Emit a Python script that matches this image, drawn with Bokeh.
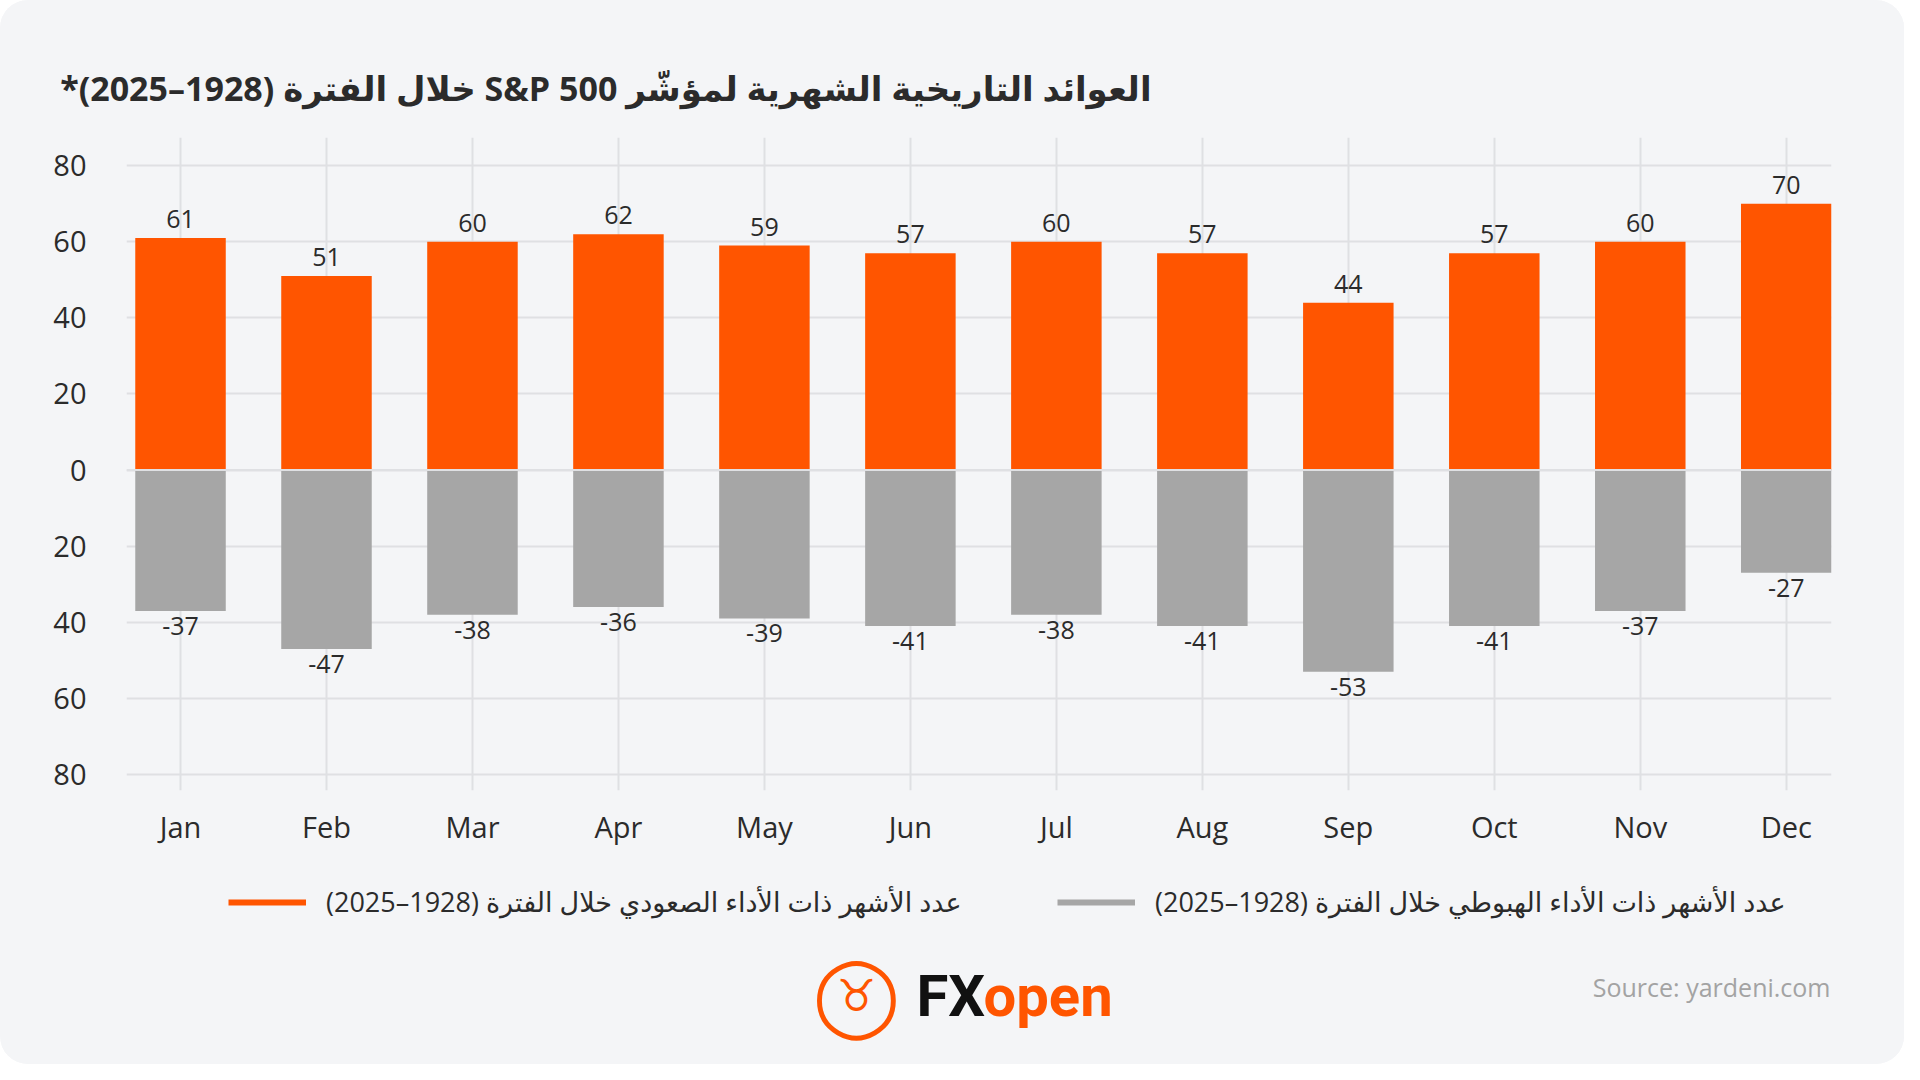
from bokeh.plotting import figure
from bokeh.layouts import column
from bokeh.models import (Range1d, FixedTicker, Legend, LegendItem, Label, Span, Title,
                          ColumnDataSource, CustomJSTickFormatter)
from bokeh.core.properties import value
from bokeh.embed import file_html
from bokeh.resources import INLINE

# ---------------- data ----------------
months = ["Jan", "Feb", "Mar", "Apr", "May", "Jun", "Jul", "Aug", "Sep", "Oct", "Nov", "Dec"]
up_counts = [61, 51, 60, 62, 59, 57, 60, 57, 44, 57, 60, 70]
down_counts = [-37, -47, -38, -36, -39, -41, -38, -41, -53, -41, -37, -27]
y_ticks = [-80, -60, -40, -20, 0, 20, 40, 60, 80]

title_text = "العوائد التاريخية الشهرية لمؤشّر S&P 500 خلال الفترة (1928–2025)*"
legend_up = "عدد الأشهر ذات الأداء الصعودي خلال الفترة (1928–2025)"
legend_down = "عدد الأشهر ذات الأداء الهبوطي خلال الفترة (1928–2025)"
source_text = "Source: yardeni.com"

RLE, PDF = "\u202b", "\u202c"

ORANGE = "#ff5500"
GREY = "#a6a6a6"
TEXT = "#2b2b2b"
GRID = "#dfe0e3"
BG = "#f4f5f7"
FONT = "Open Sans, DejaVu Sans"
W = 1904
H_MAIN = 868
H_BOT = 1064 - H_MAIN

# ---------------- main chart ----------------
x_idx = list(range(len(months)))
src = ColumnDataSource(dict(
    x=x_idx,
    up=up_counts,
    down=down_counts,
    up_txt=[str(v) for v in up_counts],
    down_txt=[str(v) for v in down_counts],
))

p = figure(width=W, height=H_MAIN,
           x_range=Range1d(-0.37, 11.31), y_range=Range1d(-84.2, 87.4),
           output_backend="svg", toolbar_location=None, title=None,
           min_border_left=126, min_border_right=73,
           min_border_top=137, min_border_bottom=H_MAIN - 790)
p.background_fill_color = BG
p.border_fill_color = BG
p.outline_line_color = None

p.add_layout(Title(text=RLE + title_text + PDF, align="right", offset=680,
                   standoff=52, vertical_align="middle", text_font=FONT,
                   text_font_size="34px", text_font_style="bold",
                   text_color=TEXT), "above")

p.xgrid.ticker = FixedTicker(ticks=x_idx)
p.ygrid.ticker = FixedTicker(ticks=y_ticks)
for g in (p.xgrid, p.ygrid):
    g.grid_line_color = GRID
    g.grid_line_width = 2

xa = p.xaxis[0]
xa.ticker = FixedTicker(ticks=x_idx)
xa.formatter = CustomJSTickFormatter(args=dict(months=months),
                                     code="return months[Math.round(tick)];")
ya = p.yaxis[0]
ya.ticker = FixedTicker(ticks=y_ticks)
ya.formatter = CustomJSTickFormatter(code="return String(Math.abs(Math.round(tick)));")
for ax in (xa, ya):
    ax.axis_line_color = None
    ax.major_tick_line_color = None
    ax.minor_tick_line_color = None
    ax.major_tick_out = 0
    ax.major_tick_in = 0
    ax.major_label_text_font = FONT
    ax.major_label_text_color = TEXT
    ax.major_label_text_font_size = "29px"
xa.major_label_standoff = 16
ya.major_label_standoff = 40

p.vbar(x="x", top="up", bottom=0, width=0.62, source=src,
       fill_color=ORANGE, line_color=None)
p.vbar(x="x", top=0, bottom="down", width=0.62, source=src,
       fill_color=GREY, line_color=None)

p.add_layout(Span(location=0, dimension="width", line_color=GRID,
                  line_width=2, level="overlay"))

p.text(x="x", y="up", text="up_txt", source=src, text_align="center",
       text_baseline="middle", y_offset=-19, text_font=value(FONT),
       text_font_size="25px", text_color=TEXT)
p.text(x="x", y="down", text="down_txt", source=src, text_align="center",
       text_baseline="middle", y_offset=15, text_font=value(FONT),
       text_font_size="25px", text_color=TEXT)

# ---------------- bottom strip: legend, logo, source ----------------
bot = figure(width=W, height=H_BOT, x_range=Range1d(126, 1831), y_range=Range1d(H_BOT, 0),
             output_backend="svg", toolbar_location=None, title=None,
             x_axis_type=None, y_axis_type=None,
             min_border_left=126, min_border_right=73, min_border_top=0, min_border_bottom=0)
bot.background_fill_color = BG
bot.border_fill_color = BG
bot.outline_line_color = None
bot.grid.visible = False

# legend key renderers (their points fall outside this strip's range, only the key shows)
key_up = bot.line(x="x", y="up", source=src, line_color=ORANGE, line_width=6)
key_down = bot.line(x="x", y="down", source=src, line_color=GREY, line_width=6)


def make_legend(label, renderer, loc):
    lg = Legend(items=[LegendItem(label=RLE + label + PDF, renderers=[renderer])],
                location=loc, orientation="horizontal",
                glyph_width=78, glyph_height=20, label_height=20,
                label_standoff=20, padding=0, margin=0, spacing=0,
                border_line_color=None, background_fill_alpha=0,
                label_text_font=FONT, label_text_font_size="27px",
                label_text_color=TEXT)
    bot.add_layout(lg)
    return lg


make_legend(legend_up, key_up, (228 - 126, 144))
make_legend(legend_down, key_down, (1057 - 126, 144))

bot.add_layout(Label(x=1830, y=986 - H_MAIN, text=source_text, text_align="right",
                     text_baseline="middle", text_font=FONT,
                     text_font_size="25px", text_color="#a3a3a3"))

bot.add_layout(Label(x=856, y=993 - H_MAIN, text="◯", text_align="center",
                     text_baseline="middle", text_font="DejaVu Sans",
                     text_font_size="78px", text_color=ORANGE))
bot.add_layout(Label(x=856, y=995 - H_MAIN, text="♉", text_align="center",
                     text_baseline="middle", text_font="DejaVu Sans",
                     text_font_size="44px", text_color=ORANGE))
bot.add_layout(Label(x=916, y=995 - H_MAIN, text="FX", text_align="left",
                     text_baseline="middle", text_font="Roboto",
                     text_font_size="58px", text_font_style="bold",
                     text_color="#111111"))
bot.add_layout(Label(x=983, y=995 - H_MAIN, text="open", text_align="left",
                     text_baseline="middle", text_font="Roboto",
                     text_font_size="58px", text_font_style="bold",
                     text_color=ORANGE))

layout = column(p, bot, spacing=0)
layout.styles = {"border-radius": "28px", "overflow": "hidden",
                 "background-color": BG}

open("out.html", "w").write(file_html(layout, INLINE))
